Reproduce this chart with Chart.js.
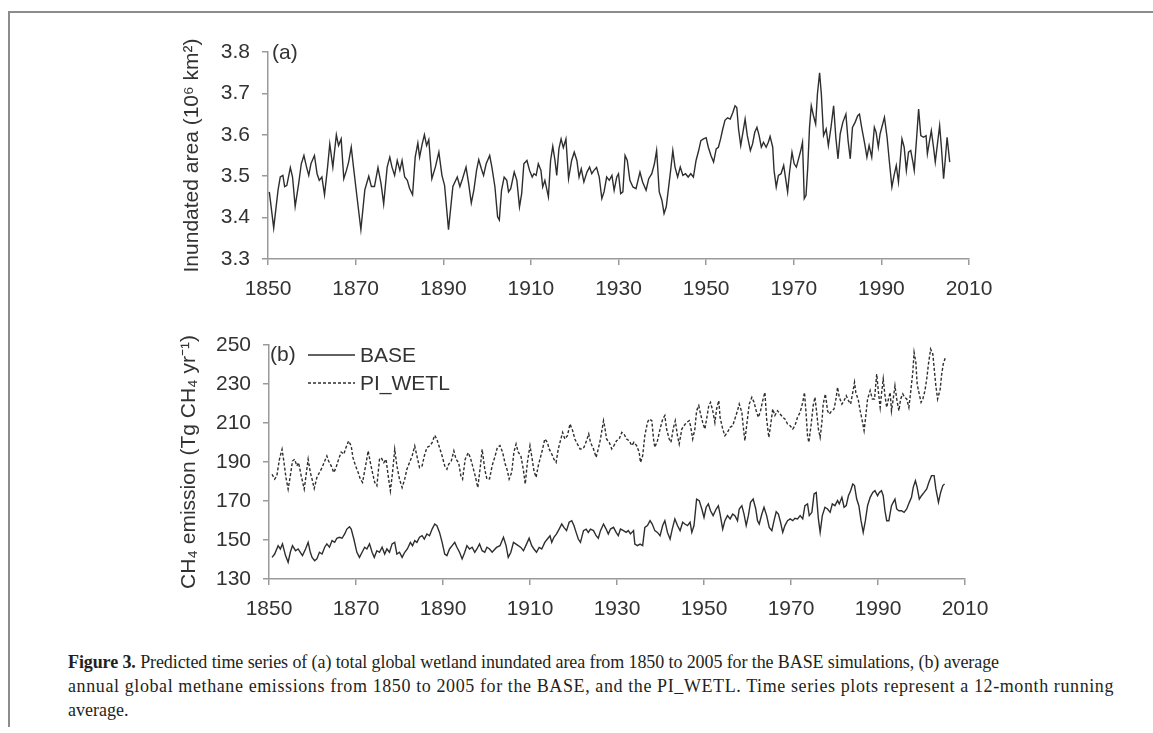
<!DOCTYPE html>
<html>
<head>
<meta charset="utf-8">
<title>Figure 3</title>
<script src="https://cdn.jsdelivr.net/npm/chart.js@4.4.1/dist/chart.umd.min.js"></script>
<style>
  body { margin: 0; background: #fff; width: 1153px; height: 733px; position: relative; overflow: hidden;
         font-family: "Liberation Sans", Arial, sans-serif; }
  #frameTop { position: absolute; left: 8px; top: 11px; width: 1145px; border-top: 2px solid #8c8c8c; }
  #frameLeft { position: absolute; left: 8px; top: 11px; height: 716px; border-left: 2px solid #8c8c8c; }
  canvas { position: absolute; left: 0; }
  #areaChart { top: 0; }
  #ch4Chart { top: 320px; }
  .tag { position: absolute; font-size: 21px; color: #333; }
  #caption { position: absolute; left: 68px; top: 650px; font-family: "Liberation Serif", serif; font-size: 18px;
             line-height: 24px; color: #231f20; white-space: nowrap; }
</style>
</head>
<body>
<div id="frameTop"></div>
<div id="frameLeft"></div>
<canvas id="areaChart" width="1153" height="320"></canvas>
<canvas id="ch4Chart" width="1153" height="310"></canvas>
<div class="tag" style="left:272px; top:40px;">(a)</div>
<div class="tag" style="left:270px; top:342px;">(b)</div>
<div id="caption">
  <div style="letter-spacing:-0.1px;"><b>Figure 3.</b> Predicted time series of (a) total global wetland inundated area from 1850 to 2005 for the BASE simulations, (b) average</div>
  <div style="letter-spacing:0.6px;">annual global methane emissions from 1850 to 2005 for the BASE, and the PI_WETL. Time series plots represent a 12-month running</div>
  <div>average.</div>
</div>

<script>
// (a) inundated area, 10^6 km2 (12-month running mean)
const areaYears = [
  1850.3,1851.3,1852.3,1852.8,1853.4,1853.8,1854.3,1855.1,1855.6,1856.2,1857.0,1857.6,1858.2,1858.8,1859.3,1859.8,
  1860.6,1861.2,1861.7,1862.3,1862.9,1863.6,1864.1,1864.8,1865.6,1866.1,1866.7,1867.3,1867.9,1868.4,1869.0,1869.6,
  1870.3,1871.2,1872.1,1873.0,1873.6,1874.3,1875.1,1875.8,1876.4,1877.2,1877.8,1878.3,1878.9,1879.5,1880.1,1880.6,
  1881.2,1881.8,1882.3,1883.0,1883.6,1884.2,1884.6,1885.2,1885.7,1886.2,1886.7,1887.4,1888.2,1889.0,1889.7,1890.3,
  1891.2,1892.2,1893.2,1893.8,1894.4,1895.2,1895.8,1896.4,1897.0,1897.6,1898.1,1898.7,1899.2,1899.8,1900.6,1901.1,
  1901.8,1902.4,1902.8,1903.3,1903.9,1904.5,1904.9,1905.4,1906.2,1906.8,1907.4,1907.9,1908.4,1909.1,1909.7,1910.3,
  1910.7,1911.2,1911.7,1912.3,1912.7,1913.2,1914.0,1914.5,1915.0,1915.5,1915.9,1916.4,1916.9,1917.4,1918.0,1918.6,
  1919.3,1919.9,1920.5,1921.0,1921.5,1922.1,1922.8,1923.4,1923.9,1924.4,1925.0,1925.6,1926.2,1926.7,1927.3,1927.9,
  1928.5,1929.0,1929.6,1930.0,1930.5,1931.0,1931.5,1932.0,1932.6,1933.3,1934.0,1934.9,1935.5,1936.3,1936.9,1937.6,
  1938.2,1938.7,1939.3,1939.9,1940.4,1940.9,1941.4,1941.9,1942.4,1942.9,1943.5,1944.1,1944.7,1945.3,1945.9,1946.5,
  1947.1,1947.7,1948.3,1948.8,1949.4,1950.0,1950.5,1951.1,1951.7,1952.3,1952.8,1953.3,1953.8,1954.3,1954.9,1955.5,
  1956.1,1956.6,1957.0,1957.4,1957.9,1958.4,1958.9,1959.4,1960.1,1960.6,1961.1,1961.6,1962.1,1962.6,1963.1,1963.7,
  1964.2,1964.6,1965.2,1965.5,1966.0,1966.5,1967.1,1967.7,1968.1,1968.6,1969.0,1969.6,1970.1,1970.6,1971.1,1971.6,
  1972.0,1972.4,1972.8,1973.2,1973.6,1974.0,1974.5,1975.0,1975.4,1975.9,1976.3,1976.8,1977.4,1977.9,1978.5,1979.1,
  1979.6,1980.1,1980.6,1981.2,1981.9,1982.4,1982.9,1983.4,1984.0,1984.6,1985.0,1985.5,1986.2,1986.7,1987.2,1987.8,
  1988.4,1988.8,1989.3,1989.7,1990.3,1990.7,1991.3,1991.8,1992.4,1992.9,1993.4,1993.9,1994.3,1994.7,1995.2,1995.7,
  1996.2,1996.7,1997.2,1997.5,1998.0,1998.5,1999.0,1999.6,2000.2,2000.5,2001.0,2001.4,2001.9,2002.3,2002.8,2003.3,
  2003.7,2004.2,2004.6,2005.0,2005.6
];
const areaValues = [
  3.462,3.375,3.467,3.498,3.502,3.475,3.478,3.521,3.498,3.427,3.482,3.530,3.550,3.522,3.502,3.530,
  3.550,3.506,3.490,3.498,3.455,3.522,3.578,3.522,3.600,3.574,3.590,3.494,3.514,3.534,3.570,3.514,
  3.451,3.371,3.467,3.500,3.475,3.475,3.521,3.482,3.433,3.522,3.546,3.522,3.502,3.538,3.514,3.538,
  3.498,3.490,3.471,3.455,3.546,3.580,3.546,3.578,3.600,3.574,3.588,3.494,3.522,3.558,3.502,3.478,
  3.371,3.475,3.498,3.475,3.494,3.522,3.482,3.435,3.467,3.514,3.540,3.518,3.502,3.530,3.550,3.522,
  3.474,3.402,3.394,3.466,3.498,3.490,3.462,3.470,3.510,3.490,3.426,3.458,3.530,3.538,3.514,3.498,
  3.506,3.502,3.530,3.514,3.474,3.490,3.450,3.538,3.572,3.538,3.502,3.566,3.590,3.569,3.590,3.494,
  3.538,3.558,3.538,3.498,3.518,3.486,3.510,3.522,3.506,3.514,3.521,3.498,3.446,3.462,3.498,3.490,
  3.502,3.466,3.498,3.506,3.458,3.462,3.550,3.538,3.490,3.474,3.470,3.510,3.486,3.466,3.494,3.506,
  3.530,3.562,3.462,3.442,3.410,3.426,3.470,3.514,3.562,3.522,3.498,3.522,3.502,3.506,3.498,3.506,
  3.498,3.538,3.562,3.586,3.590,3.593,3.570,3.550,3.534,3.566,3.570,3.590,3.614,3.635,3.641,3.638,
  3.654,3.670,3.666,3.614,3.574,3.606,3.638,3.598,3.562,3.578,3.606,3.618,3.598,3.570,3.582,3.570,
  3.582,3.596,3.570,3.514,3.474,3.502,3.506,3.526,3.498,3.462,3.506,3.558,3.530,3.522,3.542,3.562,
  3.582,3.446,3.454,3.522,3.618,3.670,3.646,3.626,3.698,3.750,3.698,3.598,3.614,3.574,3.618,3.670,
  3.594,3.542,3.602,3.630,3.650,3.586,3.542,3.618,3.630,3.646,3.650,3.618,3.578,3.546,3.574,3.546,
  3.618,3.606,3.570,3.602,3.626,3.642,3.594,3.538,3.474,3.502,3.526,3.486,3.538,3.590,3.570,3.514,
  3.558,3.562,3.534,3.514,3.586,3.662,3.598,3.594,3.598,3.554,3.586,3.610,3.570,3.534,3.578,3.622,
  3.570,3.494,3.542,3.594,3.534
];

// (b) CH4 emission, Tg CH4 / yr, BASE run
const baseYears = [
  1850.7,1851.3,1852.1,1852.6,1853.1,1853.8,1854.4,1854.9,1855.4,1856.1,1856.7,1857.2,1857.7,1858.4,1859.0,1859.5,
  1859.9,1860.5,1861.0,1861.6,1862.2,1862.8,1863.3,1863.9,1864.5,1865.1,1865.6,1866.2,1866.8,1867.4,1867.9,1868.5,
  1868.9,1869.5,1870.2,1870.8,1871.4,1872.0,1872.5,1873.1,1873.7,1874.2,1874.8,1875.4,1876.0,1876.6,1877.1,1877.7,
  1878.3,1878.9,1879.4,1880.0,1880.6,1881.2,1881.8,1882.5,1883.0,1883.5,1884.0,1884.6,1885.2,1885.7,1886.3,1886.9,
  1887.5,1888.1,1888.6,1889.2,1889.8,1890.4,1890.9,1891.5,1892.1,1892.7,1893.2,1893.8,1894.4,1895.0,1895.5,1896.1,
  1896.7,1897.3,1897.8,1898.4,1899.0,1899.6,1900.1,1900.7,1901.3,1902.3,1903.1,1903.9,1904.5,1905.0,1905.6,1906.2,
  1906.8,1907.3,1907.9,1908.5,1909.2,1909.8,1910.4,1910.9,1911.5,1912.1,1912.7,1913.4,1914.0,1914.6,1915.0,1915.5,
  1916.1,1916.7,1917.3,1917.8,1918.4,1919.0,1919.6,1920.1,1920.6,1921.1,1921.6,1922.3,1922.9,1923.4,1923.9,1924.6,
  1925.2,1925.7,1926.2,1926.9,1927.5,1928.0,1928.5,1929.2,1929.8,1930.3,1930.8,1931.5,1932.1,1932.6,1933.1,1933.8,
  1934.1,1934.7,1935.3,1935.9,1936.4,1937.0,1937.6,1938.1,1938.7,1939.3,1939.9,1940.5,1941.0,1941.6,1942.2,1942.7,
  1943.3,1943.9,1944.5,1945.1,1945.6,1946.2,1946.8,1947.2,1947.7,1948.3,1948.9,1949.5,1950.0,1950.5,1951.0,1951.5,
  1952.1,1952.8,1953.3,1953.7,1954.3,1954.8,1955.4,1956.0,1956.6,1957.1,1957.7,1958.1,1958.7,1959.2,1959.7,1960.2,
  1960.7,1961.3,1961.9,1962.3,1962.7,1963.3,1963.8,1964.4,1965.0,1965.6,1966.1,1966.6,1967.1,1967.6,1968.1,1968.6,
  1969.2,1969.8,1970.4,1970.9,1971.5,1972.1,1972.7,1973.2,1973.8,1974.2,1974.8,1975.3,1975.8,1976.3,1976.7,1977.2,
  1977.8,1978.4,1979.0,1979.5,1980.1,1980.7,1981.1,1981.7,1982.2,1982.7,1983.2,1983.7,1984.2,1984.6,1985.1,1985.6,
  1986.1,1986.6,1987.1,1987.6,1988.2,1988.8,1989.3,1989.9,1990.3,1990.8,1991.2,1991.6,1992.0,1992.5,1993.1,1993.5,
  1993.9,1994.3,1994.8,1995.4,1996.0,1996.6,1997.2,1997.7,1998.1,1998.6,1999.0,1999.5,2000.0,2000.6,2001.2,2001.7,
  2002.3,2002.9,2003.3,2003.9,2004.4,2004.9,2005.3
];
const baseValues = [
  141.1,142.8,147.1,145.4,148.0,142.0,138.6,143.7,147.1,144.5,145.4,143.7,142.0,145.4,148.8,143.7,
  141.1,139.4,140.3,143.7,142.8,146.3,148.0,146.3,149.7,148.8,150.9,151.4,150.9,153.1,155.6,156.8,
  155.6,150.5,143.7,141.1,143.7,146.3,145.4,148.0,143.7,141.1,144.5,143.7,146.3,142.8,145.4,143.7,
  148.0,148.8,142.8,143.7,141.1,143.7,145.4,148.8,147.1,149.7,148.8,151.4,152.2,150.5,153.1,152.2,
  155.6,158.2,157.3,153.9,148.8,142.8,142.0,145.4,147.1,148.8,146.3,143.7,140.3,143.7,147.1,145.4,
  146.3,143.7,145.4,148.0,144.5,143.7,146.3,145.4,143.7,146.2,147.1,151.4,147.1,141.1,143.7,148.8,
  147.9,147.1,146.2,144.5,147.9,150.9,147.1,145.4,143.7,146.2,145.4,148.8,150.5,152.2,148.8,151.4,
  153.1,155.6,158.2,156.5,154.8,159.1,159.9,157.4,153.9,150.5,148.8,154.8,155.6,153.9,155.6,154.8,
  152.2,150.9,154.8,158.2,155.6,153.1,155.6,156.5,153.9,152.2,155.6,154.8,153.9,154.8,153.1,154.8,
  147.9,147.1,147.9,147.1,156.5,157.4,159.9,158.2,154.8,153.9,152.2,157.4,159.9,153.9,150.5,155.6,
  160.8,157.4,154.8,159.1,158.2,157.4,159.1,153.9,157.4,171.0,170.2,165.9,161.6,166.8,168.5,165.0,
  162.5,165.9,167.6,163.3,155.6,159.9,162.5,160.8,163.3,162.5,159.9,165.9,167.6,163.3,157.4,162.5,
  169.3,171.0,165.9,159.9,158.2,163.3,166.8,162.5,156.5,154.8,159.9,164.5,163.3,159.1,153.9,157.4,
  159.9,160.8,159.9,161.1,160.8,162.5,160.8,167.6,168.5,162.5,164.2,173.6,174.4,160.8,153.9,162.5,
  166.8,165.9,164.2,168.5,167.6,170.2,168.5,171.9,166.8,167.6,172.7,175.3,178.7,177.9,171.0,167.6,
  159.9,153.9,159.9,167.6,171.9,174.4,175.3,172.7,174.4,175.3,172.7,165.0,159.9,159.9,167.6,169.3,
  171.0,165.9,165.0,165.0,164.2,165.9,169.3,171.9,177.0,180.4,177.0,171.0,172.7,174.4,176.2,179.6,
  183.0,183.0,176.2,169.3,174.4,177.9,178.7
];

// (b) CH4 emission, Tg CH4 / yr, PI_WETL run
const wetlYears = [
  1850.7,1851.3,1851.8,1852.4,1853.0,1853.4,1853.9,1854.4,1854.9,1855.4,1855.9,1856.4,1856.8,1857.4,1858.1,1858.6,
  1859.0,1859.5,1859.9,1860.4,1861.0,1861.6,1862.2,1862.8,1863.3,1863.7,1864.3,1864.9,1865.4,1866.0,1866.6,1867.2,
  1867.7,1868.3,1868.9,1869.3,1869.9,1870.5,1871.0,1871.5,1872.2,1872.8,1873.3,1873.7,1874.3,1874.8,1875.4,1875.8,
  1876.4,1876.9,1877.4,1877.9,1878.4,1878.9,1879.4,1880.0,1880.6,1881.2,1881.7,1882.3,1882.9,1883.5,1884.0,1884.6,
  1885.2,1885.7,1886.3,1886.9,1887.5,1888.1,1888.6,1889.2,1889.8,1890.4,1890.9,1891.3,1891.9,1892.5,1893.0,1893.6,
  1894.1,1894.5,1895.1,1895.8,1896.3,1896.8,1897.4,1898.0,1898.6,1899.0,1899.6,1900.1,1900.7,1901.3,1902.0,1902.5,
  1903.1,1903.7,1904.3,1904.8,1905.2,1905.8,1906.3,1906.8,1907.3,1907.9,1908.5,1908.9,1909.4,1910.0,1910.5,1910.9,
  1911.4,1911.9,1912.5,1912.9,1913.4,1914.0,1914.4,1915.0,1915.5,1916.0,1916.5,1917.1,1917.5,1918.0,1918.6,1919.2,
  1919.8,1920.3,1920.9,1921.5,1922.0,1922.4,1923.0,1923.5,1923.9,1924.6,1925.2,1925.7,1926.2,1926.9,1927.2,1927.6,
  1928.2,1928.8,1929.3,1929.9,1930.5,1931.1,1931.6,1932.2,1932.8,1933.4,1933.9,1934.5,1935.1,1935.4,1935.9,1936.4,
  1937.0,1937.4,1938.0,1938.4,1938.7,1939.3,1939.9,1940.5,1941.0,1941.4,1942.0,1942.4,1943.0,1943.4,1943.9,1944.3,
  1944.9,1945.4,1946.0,1946.6,1946.9,1947.4,1947.9,1948.3,1948.8,1949.2,1949.7,1950.2,1950.6,1951.1,1951.5,1952.0,
  1952.5,1952.9,1953.4,1953.7,1954.3,1954.8,1955.4,1956.0,1956.6,1957.1,1957.7,1958.1,1958.7,1959.0,1959.4,1959.8,
  1960.4,1961.0,1961.5,1962.0,1962.5,1963.0,1963.5,1964.0,1964.4,1964.9,1965.3,1965.8,1966.3,1966.9,1967.5,1968.1,
  1968.6,1969.2,1969.8,1970.4,1970.9,1971.5,1972.1,1972.7,1973.1,1973.5,1973.8,1974.1,1974.6,1975.1,1975.5,1975.9,
  1976.3,1976.7,1977.1,1977.4,1977.9,1978.4,1978.8,1979.4,1979.9,1980.4,1980.7,1981.1,1981.7,1982.2,1982.7,1983.2,
  1983.7,1984.2,1984.6,1984.9,1985.5,1985.9,1986.3,1986.8,1987.2,1987.6,1988.2,1988.7,1989.2,1989.7,1990.1,1990.5,
  1990.8,1991.2,1991.6,1992.0,1992.4,1992.8,1993.1,1993.5,1993.9,1994.3,1994.8,1995.2,1995.7,1996.1,1996.6,1997.1,
  1997.5,1998.0,1998.3,1998.7,1999.0,1999.4,1999.9,2000.3,2000.8,2001.2,2001.6,2002.1,2002.6,2003.0,2003.3,2003.7,
  2004.3,2004.6,2005.0,2005.5
];
const wetlValues = [
  183.7,181.2,182.9,191.4,196.5,190.5,182.0,176.1,182.9,190.5,191.4,188.0,189.7,182.9,176.1,184.6,
  191.4,184.6,181.2,176.4,182.0,184.6,187.1,190.5,193.1,190.5,188.0,184.6,187.1,191.4,195.1,194.0,
  197.4,200.8,198.2,192.2,188.0,184.6,181.2,179.5,188.0,195.7,189.7,185.4,179.5,177.8,191.4,192.2,
  189.7,191.4,182.9,175.2,184.6,196.5,188.0,181.2,176.9,181.2,186.3,189.7,193.1,198.2,193.1,187.1,
  188.0,193.1,197.4,198.2,199.9,203.7,201.6,197.4,193.1,188.0,186.3,188.8,190.5,195.7,191.4,189.7,
  182.9,181.2,191.4,194.8,192.2,188.0,182.9,176.9,188.0,196.5,186.3,181.2,181.3,188.1,193.2,197.5,
  198.4,195.0,189.0,185.6,181.3,184.7,195.0,199.2,195.0,193.2,185.6,178.7,189.8,198.4,191.5,185.6,
  182.1,188.1,193.2,196.7,201.8,200.1,196.7,194.1,191.5,189.8,196.7,201.8,205.2,201.8,203.5,209.5,
  206.1,201.8,199.2,196.7,196.7,197.5,200.9,204.4,200.1,196.7,192.4,196.7,201.8,211.2,207.8,201.8,
  200.1,196.7,198.4,200.9,201.8,205.2,204.4,201.8,200.9,198.4,200.1,198.4,195.0,189.8,193.2,203.5,
  210.3,212.0,211.2,201.8,197.5,200.9,206.9,212.0,213.8,206.9,201.8,200.1,207.8,211.2,203.5,199.2,
  206.9,208.6,210.3,211.2,208.6,201.8,206.9,216.3,218.9,214.6,210.3,206.9,212.1,218.9,220.6,216.3,
  210.3,217.2,221.5,212.9,206.9,203.5,205.2,207.8,208.6,212.1,216.3,219.7,215.5,208.6,200.9,208.6,
  219.7,223.2,220.6,216.3,212.9,216.3,221.5,225.7,212.1,202.6,208.6,217.2,213.8,216.3,214.6,212.9,
  212.1,209.5,208.6,206.9,208.6,212.9,215.5,220.6,225.7,213.8,203.5,200.1,208.6,218.9,223.2,215.5,
  206.9,202.6,210.3,219.7,224.9,216.3,214.6,216.3,217.2,223.2,228.3,223.2,219.7,221.5,224.0,221.5,
  219.7,225.7,230.9,225.7,221.5,216.3,212.1,206.1,213.8,222.3,226.6,222.3,222.3,235.1,225.7,218.0,
  224.9,232.6,224.0,218.0,222.3,225.7,216.3,222.3,229.1,222.3,216.3,222.3,224.9,223.2,222.3,218.0,
  225.7,236.0,246.2,241.1,230.0,225.7,220.6,222.3,226.6,232.6,240.3,247.9,245.4,236.0,229.1,222.3,
  227.4,234.3,240.3,243.7
];

const yearTicks = { min: 1850, max: 2010, step: 20 };
const areaTicks = { min: 3.3, max: 3.8, step: 0.1 };
const ch4Ticks = { min: 130, max: 250, step: 20 };

Chart.defaults.font.family = '"Liberation Sans", Arial, sans-serif';
Chart.defaults.color = '#333';

const axisGray = '#9a9a9a';
const lineColor = '#2e2e2e';
const bigFont = { size: 21 };

function pairs(xs, ys) {
  return xs.map((x, i) => ({ x: x, y: ys[i] }));
}

function yearAxis(height) {
  return {
    type: 'linear',
    min: yearTicks.min,
    max: yearTicks.max,
    afterFit: s => { s.height = height; },
    grid: { drawOnChartArea: false, tickLength: 6, color: axisGray, lineWidth: 1.5 },
    border: { color: axisGray, width: 1.5 },
    ticks: { stepSize: yearTicks.step, autoSkip: false, maxRotation: 0, padding: 12, font: bigFont, color: '#333',
             callback: v => String(v) }
  };
}

function valueAxis(t, width, title, digits) {
  return {
    min: t.min,
    max: t.max,
    afterFit: s => { s.width = width; },
    grid: { drawOnChartArea: false, tickLength: 6, color: axisGray, lineWidth: 1.5 },
    border: { color: axisGray, width: 1.5 },
    ticks: { stepSize: t.step, padding: 12, font: bigFont, color: '#333', callback: v => v.toFixed(digits) },
    title: { display: true, text: title, font: bigFont, color: '#333', padding: { top: 0, bottom: 0 } }
  };
}

// small legend drawn inside the plot area, next to the "(b)" tag
const inlineLegend = {
  id: 'inlineLegend',
  afterDraw(chart, args, opts) {
    const { ctx, chartArea } = chart;
    ctx.save();
    ctx.font = '21px "Liberation Sans", Arial, sans-serif';
    ctx.textBaseline = 'middle';
    chart.data.datasets.forEach((ds, i) => {
      const x = chartArea.left + opts.left;
      const y = chartArea.top + opts.top + i * opts.spacing;
      ctx.beginPath();
      ctx.setLineDash(ds.borderDash || []);
      ctx.strokeStyle = ds.borderColor;
      ctx.lineWidth = ds.borderWidth;
      ctx.moveTo(x, y);
      ctx.lineTo(x + opts.sample, y);
      ctx.stroke();
      ctx.setLineDash([]);
      ctx.fillStyle = '#333';
      ctx.fillText(ds.label, x + opts.sample + 5, y + 1);
    });
    ctx.restore();
  }
};

new Chart(document.getElementById('areaChart'), {
  type: 'line',
  data: {
    datasets: [{
      label: 'BASE',
      data: pairs(areaYears, areaValues),
      borderColor: lineColor,
      borderWidth: 1.4,
      pointRadius: 0,
      tension: 0
    }]
  },
  options: {
    responsive: false,
    animation: false,
    layout: { padding: { left: 180, right: 184, top: 52, bottom: 0 } },
    scales: {
      x: yearAxis(61),
      y: valueAxis(areaTicks, 88, 'Inundated area (10\u2076 km\u00b2)', 1)
    },
    plugins: { legend: { display: false }, tooltip: { enabled: false } }
  }
});

new Chart(document.getElementById('ch4Chart'), {
  type: 'line',
  data: {
    datasets: [
      {
        label: 'BASE',
        data: pairs(baseYears, baseValues),
        borderColor: lineColor,
        borderWidth: 1.4,
        pointRadius: 0,
        tension: 0
      },
      {
        label: 'PI_WETL',
        data: pairs(wetlYears, wetlValues),
        borderColor: lineColor,
        borderWidth: 1.4,
        borderDash: [3, 2],
        pointRadius: 0,
        tension: 0
      }
    ]
  },
  options: {
    responsive: false,
    animation: false,
    layout: { padding: { left: 177, right: 188, top: 25, bottom: 0 } },
    scales: {
      x: yearAxis(51),
      y: valueAxis(ch4Ticks, 92, 'CH\u2084 emission (Tg CH\u2084 yr\u207b\u00b9)', 0)
    },
    plugins: {
      legend: { display: false },
      tooltip: { enabled: false },
      inlineLegend: { left: 39, top: 10, spacing: 28, sample: 47 }
    }
  },
  plugins: [inlineLegend]
});
</script>
</body>
</html>
